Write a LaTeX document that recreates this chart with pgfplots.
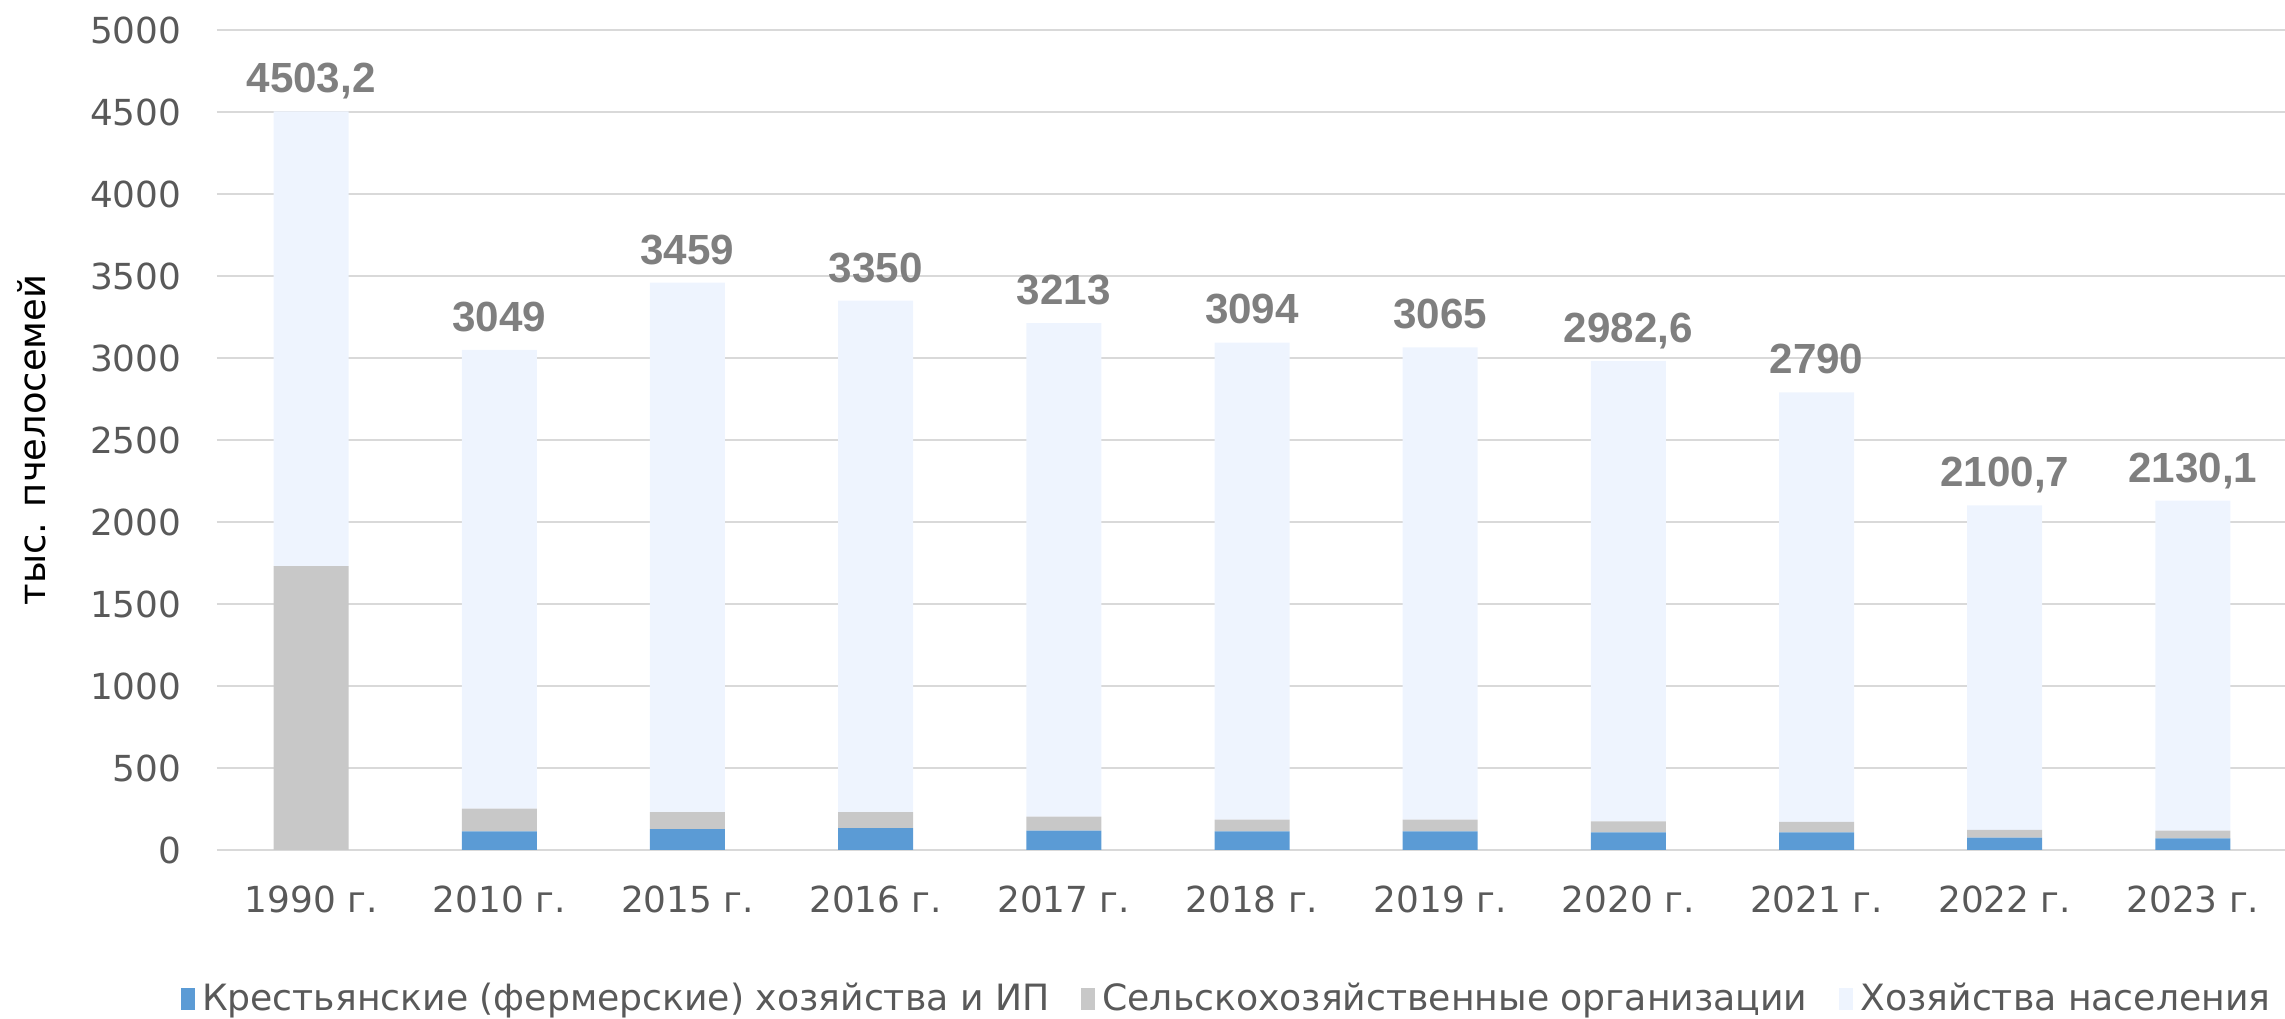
\documentclass[border=0pt]{standalone}
\usepackage{fontspec}
\setmainfont{DejaVu Sans}
\newfontfamily\lab{Liberation Sans}
\usepackage{pgfplots}
\usepackage{pgfplotstable}
\pgfplotsset{compat=1.18}

\definecolor{cfarm}{HTML}{5B9BD5}
\definecolor{corg}{HTML}{C8C8C8}
\definecolor{cpop}{HTML}{EEF4FE}
\definecolor{cgrid}{HTML}{D9D9D9}
\definecolor{ctick}{HTML}{595959}
\definecolor{clab}{HTML}{7F7F7F}

% x  farm  org  pop  total
\pgfplotstableread{
x a b c total
0 0 1731 2772.2 4503.2
1 114 138 2797 3049
2 128 103 3228 3459
3 134 97 3119 3350
4 118 85 3010 3213
5 114 71 2909 3094
6 114 71 2880 3065
7 108 67 2807.6 2982.6
8 108 63 2619 2790
9 75 47 1978.7 2100.7
10 71 47 2012.1 2130.1
}\bees

\pgfplotsset{frame/.style={
  at={(2.17cm,1.69cm)}, anchor=south west,
  scale only axis,
  width=20.70cm, height=8.20cm,
  bar width=0.75cm,
  xmin=-0.5, xmax=10.5,
  ymin=0, ymax=5000,
  /pgf/number format/assume math mode=true,
  /pgf/number format/1000 sep={},
}}

\begin{document}
\begin{tikzpicture}
\begin{axis}[
  frame,
  ybar stacked,
  ytick distance=500,
  xtick=data,
  xticklabels={1990 г.,2010 г.,2015 г.,2016 г.,2017 г.,2018 г.,2019 г.,2020 г.,2021 г.,2022 г.,2023 г.},
  axis line style={draw=none},
  major tick length=0pt,
  ymajorgrids,
  grid style={draw=cgrid, line width=0.55pt},
  tick label style={font=\fontsize{10.2}{12}\selectfont, text=ctick},
  yticklabel style={anchor=east, inner sep=0pt, xshift=-0.35cm},
  xticklabel style={anchor=north, inner sep=0pt, yshift=-0.35cm},
  ylabel={тыс. пчелосемей},
  ylabel style={at={(axis description cs:-0.0894,0.5)}, anchor=center,
    font=\fontsize{10.5}{12}\selectfont, text=black},
  legend columns=3,
  legend style={at={(axis description cs:0.489,-0.1817)}, anchor=center,
    draw=none, font=\fontsize{10.3}{12}\selectfont, text=ctick,
    /tikz/every even column/.append style={column sep=0.25cm}},
  legend image code/.code={\fill[#1] (0cm,-0.11cm) rectangle (0.14cm,0.11cm);},
]
\addplot[fill=cfarm, draw=none] table[x=x, y=a] {\bees};
\addlegendentry{Крестьянские (фермерские) хозяйства и ИП}
\addplot[fill=corg, draw=none] table[x=x, y=b] {\bees};
\addlegendentry{Сельскохозяйственные организации}
\addplot[fill=cpop, draw=none] table[x=x, y=c] {\bees};
\addlegendentry{Хозяйства населения}
\end{axis}

% totals above the stacks
\begin{axis}[
  frame,
  ybar,
  hide axis,
]
\addplot[draw=none, fill=none,
  nodes near coords,
  point meta=explicit,
  every node near coord/.append style={anchor=base, inner sep=0pt, yshift=0.186cm,
    font=\lab\bfseries\fontsize{12}{14}\selectfont, text=clab,
    /pgf/number format/use comma, /pgf/number format/fixed,
    /pgf/number format/precision=1, /pgf/number format/1000 sep={}},
] table[x=x, y=total, meta=total] {\bees};
\end{axis}
\pgfresetboundingbox
\path (0,0) rectangle (22.85cm,10.19cm);
\end{tikzpicture}
\end{document}
